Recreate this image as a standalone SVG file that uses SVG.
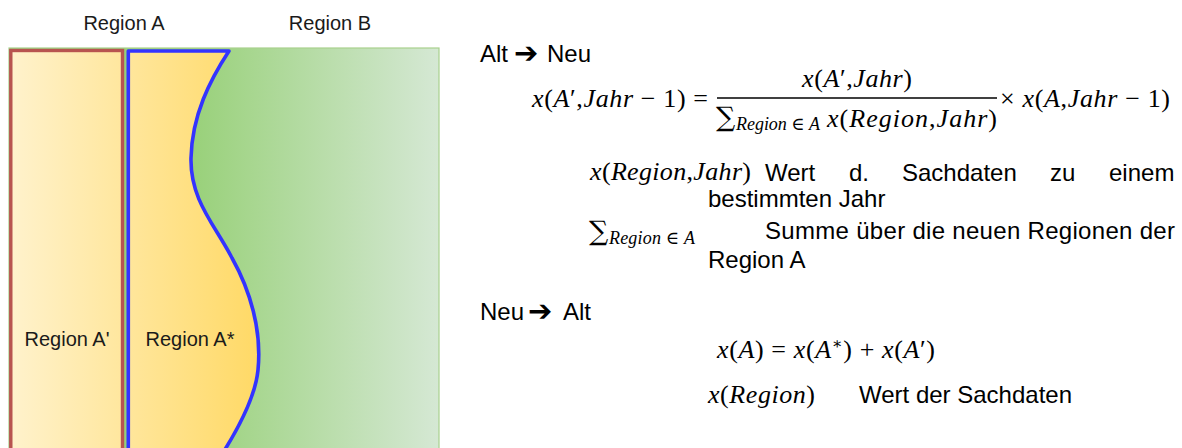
<svg xmlns="http://www.w3.org/2000/svg" width="1182" height="448" viewBox="0 0 1182 448">
  <defs>
    <linearGradient id="gYellow" gradientUnits="userSpaceOnUse" x1="11" y1="0" x2="258" y2="0">
      <stop offset="0" stop-color="#fff2cc"/>
      <stop offset="1" stop-color="#ffd966"/>
    </linearGradient>
    <linearGradient id="gGreen" gradientUnits="userSpaceOnUse" x1="185" y1="0" x2="439" y2="0">
      <stop offset="0" stop-color="#97d077"/>
      <stop offset="1" stop-color="#d5e8d4"/>
    </linearGradient>
  </defs>
  <style>
    .lbl { font-family: "Liberation Sans", Arial, sans-serif; font-size: 20px; fill: #1a1a1a; text-anchor: middle; }
    .txt { font-family: "Liberation Sans", Arial, sans-serif; font-size: 24px; fill: #000; }
    .arr { font-family: "DejaVu Sans", sans-serif; font-size: 29px; font-weight: bold; }
    .m { font-family: "Liberation Serif", "DejaVu Serif", serif; font-size: 26px; fill: #000; }
    .i { font-style: italic; }
    .sum { font-family: "DejaVu Serif", serif; font-size: 27px; }
    .sub { font-size: 18px; }
  </style>

  <rect x="0" y="0" width="1182" height="448" fill="#fff"/>

  <!-- column headings -->
  <g id="heading-a"><text class="lbl" x="124" y="30">Region A</text></g>
  <g id="heading-b"><text class="lbl" x="330" y="30">Region B</text></g>

  <!-- region B: full background block -->
  <g id="region-b">
    <rect x="9" y="48" width="430" height="410" fill="url(#gGreen)" stroke="#a9d18e" stroke-width="1.2"/>
  </g>

  <!-- region A' -->
  <g id="region-a-prime">
    <rect x="10.8" y="50.5" width="111.7" height="410" fill="url(#gYellow)" stroke="#b85450" stroke-width="3.4"/>
    <text class="lbl" x="67" y="346">Region A'</text>
  </g>

  <!-- region A*: curved boundary against region B -->
  <g id="region-a-star">
    <path d="M128.3,462 L128.3,51 L229,51 C210,80 192,115 191,158 C190,200 215,225 232,258 C250,290 262,330 258,370 C255,400 235,435 215,465 Z"
          fill="url(#gYellow)" stroke="#3333ff" stroke-width="3.6" stroke-linejoin="round"/>
    <text class="lbl" x="190" y="346">Region A*</text>
  </g>

  <!-- old to new -->
  <g id="alt-neu">
    <text class="txt" y="62"><tspan x="480">Alt</tspan><tspan class="arr" x="514" dy="1">➔</tspan><tspan x="547" dy="-1">Neu</tspan></text>
  </g>

  <g id="formula-split">
    <text class="m" x="532" y="107" textLength="176"><tspan class="i">x</tspan>(<tspan class="i">A</tspan>′,<tspan class="i">Jahr</tspan> − 1) =</text>
    <text class="m" x="802" y="87" textLength="110"><tspan class="i">x</tspan>(<tspan class="i">A</tspan>′,<tspan class="i">Jahr</tspan>)</text>
    <line x1="717" y1="98" x2="997" y2="98" stroke="#000" stroke-width="1.5"/>
    <text class="m sum" x="716" y="126">∑</text>
    <text class="m sub" x="736" y="130" textLength="84"><tspan class="i">Region</tspan> ∈ <tspan class="i">A</tspan></text>
    <text class="m" x="827" y="127" textLength="170"><tspan class="i">x</tspan>(<tspan class="i">Region</tspan>,<tspan class="i">Jahr</tspan>)</text>
    <text class="m" x="1000" y="107" textLength="170">× <tspan class="i">x</tspan>(<tspan class="i">A</tspan>,<tspan class="i">Jahr</tspan> − 1)</text>
  </g>

  <g id="legend-value-year">
    <text class="m" x="590" y="180" textLength="161"><tspan class="i">x</tspan>(<tspan class="i">Region</tspan>,<tspan class="i">Jahr</tspan>)</text>
    <text class="txt" y="181"><tspan x="765">Wert</tspan><tspan x="849">d.</tspan><tspan x="902">Sachdaten</tspan><tspan x="1050">zu</tspan><tspan x="1109">einem</tspan></text>
    <text class="txt" x="708" y="207">bestimmten Jahr</text>
  </g>

  <g id="legend-sum">
    <text class="m sum" x="589" y="240">∑</text>
    <text class="m sub" x="609" y="244" textLength="86"><tspan class="i">Region</tspan> ∈ <tspan class="i">A</tspan></text>
    <text class="txt" x="765" y="239" textLength="410">Summe über die neuen Regionen der</text>
    <text class="txt" x="708" y="268">Region A</text>
  </g>

  <!-- new to old -->
  <g id="neu-alt">
    <text class="txt" y="320"><tspan x="480">Neu</tspan><tspan class="arr" x="528" dy="1">➔</tspan><tspan x="563" dy="-1">Alt</tspan></text>
  </g>

  <g id="formula-merge">
    <text class="m" x="717" y="358" textLength="218"><tspan class="i">x</tspan>(<tspan class="i">A</tspan>) = <tspan class="i">x</tspan>(<tspan class="i">A</tspan><tspan font-size="16" dy="-9">∗</tspan><tspan dy="9">) + </tspan><tspan class="i">x</tspan>(<tspan class="i">A</tspan>′)</text>
  </g>

  <g id="legend-value">
    <text class="m" x="708" y="403" textLength="107"><tspan class="i">x</tspan>(<tspan class="i">Region</tspan>)</text>
    <text class="txt" x="859" y="403">Wert der Sachdaten</text>
  </g>
</svg>
